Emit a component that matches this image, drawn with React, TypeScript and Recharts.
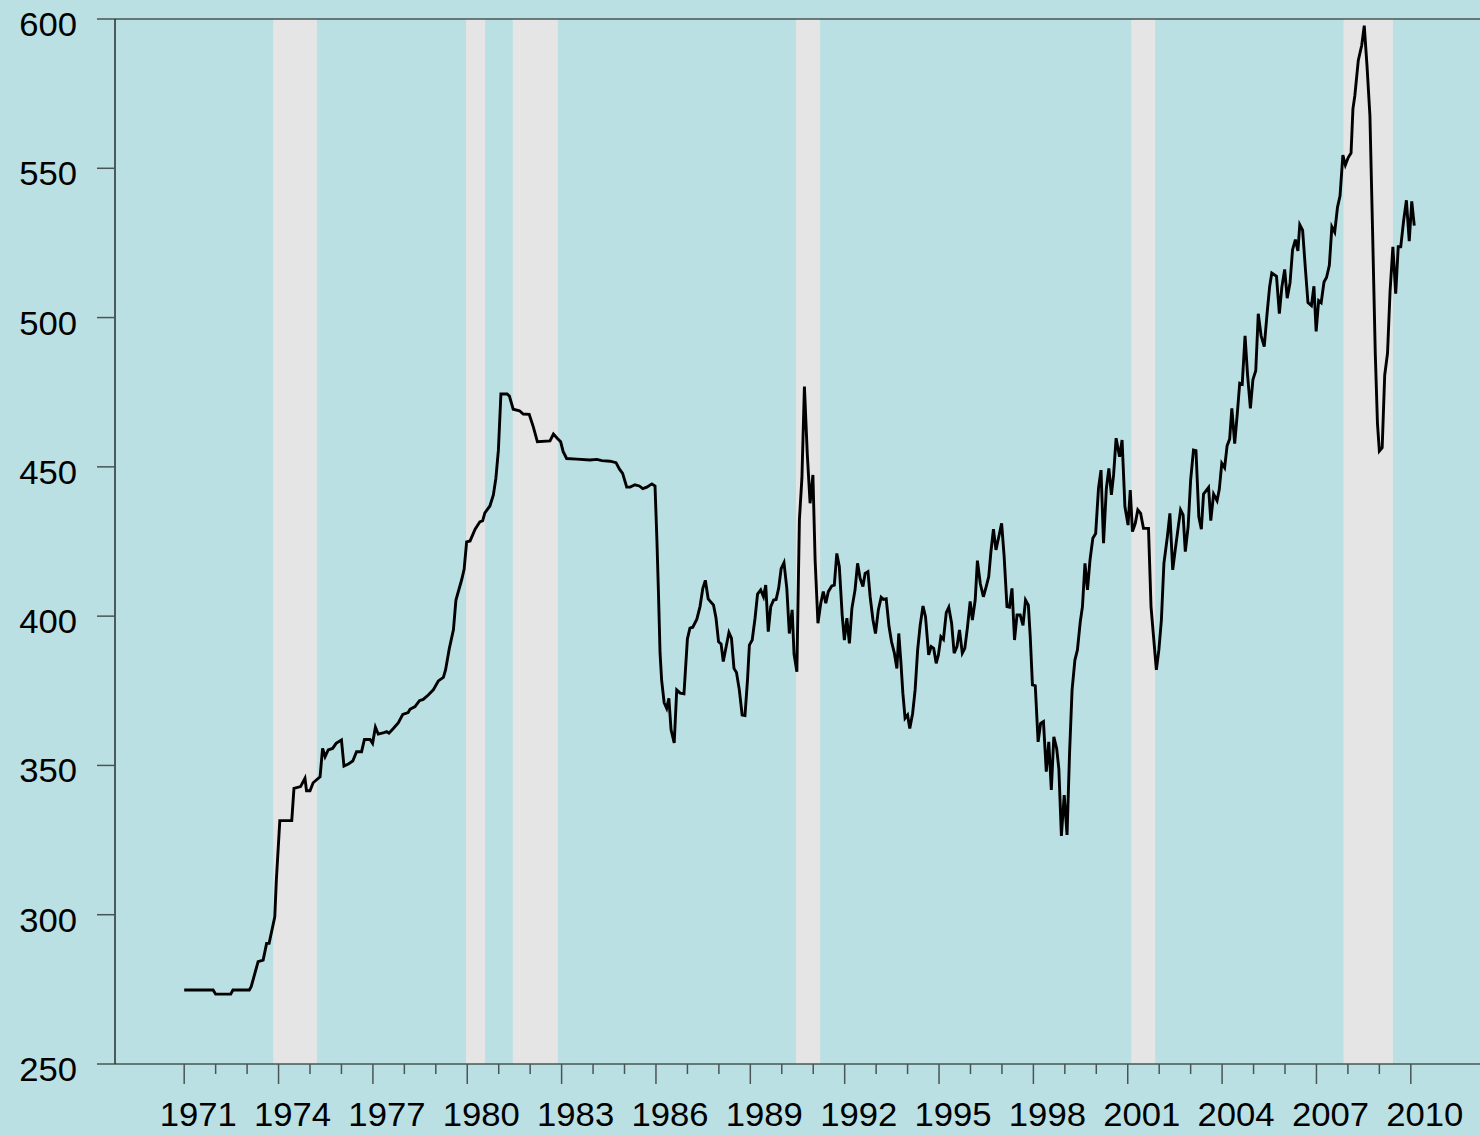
import React from 'react'
import { LineChart, Line, XAxis, YAxis, ReferenceArea, ReferenceLine } from 'recharts'

// decimal year of each reading
const dates = [
  1971.0, 1971.92, 1972.0, 1972.48, 1972.55, 1973.07, 1973.13, 1973.35, 1973.51, 1973.62,
  1973.7, 1973.88, 1973.93, 1974.04, 1974.42, 1974.49, 1974.7, 1974.84, 1974.89, 1975.0,
  1975.1, 1975.32, 1975.4, 1975.48, 1975.58, 1975.72, 1975.83, 1976.0, 1976.08, 1976.22,
  1976.36, 1976.48, 1976.64, 1976.73, 1976.91, 1976.99, 1977.08, 1977.17, 1977.35, 1977.44,
  1977.51, 1977.65, 1977.81, 1977.95, 1978.12, 1978.18, 1978.34, 1978.48, 1978.6, 1978.76,
  1978.92, 1979.08, 1979.24, 1979.31, 1979.43, 1979.56, 1979.64, 1979.82, 1979.9, 1979.98,
  1980.09, 1980.25, 1980.4, 1980.49, 1980.56, 1980.72, 1980.83, 1980.91, 1980.99, 1981.07,
  1981.27, 1981.34, 1981.46, 1981.66, 1981.78, 1981.97, 1982.1, 1982.23, 1982.63, 1982.74,
  1982.86, 1982.97, 1983.05, 1983.16, 1983.48, 1983.9, 1984.12, 1984.28, 1984.54, 1984.73,
  1984.84, 1984.94, 1985.07, 1985.18, 1985.33, 1985.47, 1985.58, 1985.71, 1985.87, 1985.97,
  1986.03, 1986.08, 1986.13, 1986.18, 1986.26, 1986.34, 1986.41, 1986.48, 1986.58, 1986.66,
  1986.77, 1986.89, 1987.0, 1987.08, 1987.17, 1987.3, 1987.4, 1987.49, 1987.57, 1987.66,
  1987.83, 1987.91, 1987.99, 1988.07, 1988.14, 1988.32, 1988.4, 1988.48, 1988.56, 1988.65,
  1988.74, 1988.83, 1988.91, 1988.97, 1989.06, 1989.15, 1989.23, 1989.33, 1989.42, 1989.49,
  1989.57, 1989.65, 1989.74, 1989.82, 1989.9, 1989.98, 1990.07, 1990.16, 1990.24, 1990.33,
  1990.39, 1990.48, 1990.56, 1990.64, 1990.72, 1990.81, 1990.9, 1990.99, 1991.06, 1991.15,
  1991.24, 1991.32, 1991.4, 1991.48, 1991.59, 1991.67, 1991.75, 1991.83, 1991.92, 1991.99,
  1992.07, 1992.15, 1992.23, 1992.33, 1992.41, 1992.49, 1992.58, 1992.65, 1992.74, 1992.81,
  1992.9, 1992.98, 1993.07, 1993.16, 1993.23, 1993.32, 1993.41, 1993.49, 1993.58, 1993.66,
  1993.72, 1993.79, 1993.85, 1993.92, 1994.0, 1994.07, 1994.16, 1994.24, 1994.32, 1994.4,
  1994.49, 1994.57, 1994.67, 1994.75, 1994.83, 1994.91, 1994.98, 1995.06, 1995.14, 1995.23,
  1995.31, 1995.4, 1995.48, 1995.57, 1995.65, 1995.74, 1995.82, 1995.9, 1995.99, 1996.06,
  1996.15, 1996.22, 1996.31, 1996.41, 1996.5, 1996.58, 1996.65, 1996.73, 1996.81, 1996.89,
  1996.99, 1997.07, 1997.16, 1997.24, 1997.32, 1997.4, 1997.48, 1997.58, 1997.67, 1997.75,
  1997.84, 1997.9, 1997.97, 1998.06, 1998.15, 1998.23, 1998.32, 1998.41, 1998.49, 1998.57,
  1998.65, 1998.74, 1998.81, 1998.89, 1998.98, 1999.07, 1999.15, 1999.23, 1999.32, 1999.4,
  1999.49, 1999.56, 1999.64, 1999.72, 1999.8, 1999.89, 1999.98, 2000.07, 2000.15, 2000.23,
  2000.32, 2000.4, 2000.48, 2000.55, 2000.63, 2000.74, 2000.82, 2000.91, 2001.01, 2001.08,
  2001.15, 2001.24, 2001.32, 2001.41, 2001.5, 2001.66, 2001.74, 2001.82, 2001.91, 2001.99,
  2002.07, 2002.15, 2002.26, 2002.34, 2002.43, 2002.51, 2002.6, 2002.68, 2002.76, 2002.83,
  2002.92, 2003.0, 2003.09, 2003.17, 2003.26, 2003.34, 2003.41, 2003.57, 2003.64, 2003.73,
  2003.84, 2003.91, 2003.99, 2004.08, 2004.16, 2004.24, 2004.31, 2004.4, 2004.48, 2004.56,
  2004.64, 2004.73, 2004.81, 2004.9, 2004.98, 2005.07, 2005.15, 2005.24, 2005.34, 2005.43,
  2005.51, 2005.58, 2005.73, 2005.82, 2005.9, 2005.99, 2006.07, 2006.16, 2006.24, 2006.33,
  2006.41, 2006.47, 2006.56, 2006.65, 2006.73, 2006.84, 2006.92, 2006.99, 2007.07, 2007.15,
  2007.24, 2007.32, 2007.41, 2007.49, 2007.58, 2007.67, 2007.75, 2007.84, 2007.92, 2008.01,
  2008.1, 2008.16, 2008.22, 2008.33, 2008.44, 2008.52, 2008.61, 2008.7, 2008.79, 2008.87,
  2008.94, 2009.0, 2009.09, 2009.17, 2009.26, 2009.34, 2009.43, 2009.52, 2009.6, 2009.68,
  2009.77, 2009.86, 2009.95, 2010.03, 2010.11,
]

const values = [
  274.8, 274.8, 273.4, 273.4, 274.8, 274.8, 275.9, 284.3, 284.8, 290.4,
  290.4, 299.3, 311.6, 331.5, 331.5, 342.3, 342.9, 345.7, 341.5, 341.5,
  344.2, 346.2, 355.7, 352.9, 355.2, 355.7, 357.4, 358.5, 349.8, 350.5,
  351.5, 354.6, 354.6, 358.7, 358.7, 357.4, 362.8, 360.5, 361.0, 361.3,
  360.8, 362.4, 364.3, 367.1, 367.7, 368.8, 369.7, 371.7, 372.1, 373.6,
  375.3, 378.3, 379.5, 382.0, 389.2, 395.4, 405.4, 412.1, 415.7, 424.9,
  425.2, 429.1, 431.6, 432.0, 434.6, 436.9, 440.6, 446.2, 455.6, 474.4,
  474.4, 473.7, 469.3, 468.8, 467.7, 467.6, 463.4, 458.4, 458.7, 461.0,
  459.6, 458.4, 455.1, 452.8, 452.6, 452.3, 452.5, 452.1, 451.9, 451.4,
  449.2, 447.8, 443.2, 443.2, 444.0, 443.6, 442.7, 443.2, 444.3, 443.6,
  425.5, 407.6, 387.6, 378.6, 371.0, 369.1, 372.5, 361.9, 357.5, 375.3,
  374.2, 374.0, 392.4, 396.0, 396.3, 399.0, 403.2, 409.3, 412.0, 405.8,
  403.7, 399.3, 391.4, 390.7, 384.8, 394.5, 392.6, 382.5, 381.1, 375.3,
  366.9, 366.7, 378.6, 390.3, 392.0, 399.3, 407.4, 408.8, 406.5, 410.4,
  394.8, 403.2, 405.4, 405.6, 409.3, 415.9, 417.9, 409.3, 394.2, 402.1,
  387.3, 381.4, 432.2, 446.2, 476.9, 454.5, 437.8, 447.3, 418.8, 397.6,
  404.3, 408.2, 404.3, 408.2, 410.1, 410.4, 421.0, 416.6, 400.4, 392.0,
  399.3, 390.9, 402.6, 408.8, 417.7, 412.7, 409.9, 414.3, 414.9, 406.5,
  398.7, 394.2, 402.1, 406.3, 405.6, 405.8, 396.5, 391.4, 387.6, 382.5,
  394.2, 384.2, 374.2, 365.8, 366.9, 362.4, 367.4, 375.3, 388.7, 396.9,
  403.4, 399.8, 387.0, 389.8, 389.2, 384.2, 387.0, 393.1, 392.2, 401.2,
  403.0, 397.6, 387.6, 389.8, 395.4, 387.6, 389.2, 395.9, 404.9, 398.7,
  405.4, 418.6, 411.0, 406.5, 409.9, 413.2, 421.6, 429.1, 422.2, 426.1,
  431.1, 420.0, 403.2, 403.0, 409.3, 392.0, 400.4, 400.4, 396.9, 405.4,
  403.7, 393.1, 377.0, 376.7, 357.9, 364.1, 364.7, 347.9, 357.9, 341.8,
  359.6, 355.7, 348.8, 326.4, 340.1, 326.7, 354.1, 375.3, 385.3, 388.7,
  398.1, 403.2, 417.7, 408.8, 418.8, 426.1, 427.7, 442.8, 448.9, 424.4,
  442.8, 449.5, 440.6, 447.3, 459.6, 453.4, 459.0, 436.7, 430.5, 442.2,
  428.3, 431.1, 435.6, 434.4, 429.4, 429.4, 403.2, 393.1, 382.0, 388.7,
  398.7, 417.7, 426.6, 434.4, 415.5, 422.2, 429.4, 435.6, 433.9, 421.6,
  430.0, 445.6, 455.6, 455.4, 433.3, 429.1, 440.9, 443.1, 432.0, 440.9,
  438.7, 442.4, 451.2, 449.7, 457.1, 459.3, 469.6, 457.8, 467.4, 478.0,
  477.7, 493.9, 480.7, 469.6, 479.2, 482.2, 501.3, 493.9, 490.3, 501.3,
  510.2, 514.9, 513.8, 501.3, 510.2, 516.1, 506.5, 511.6, 522.7, 526.1,
  522.3, 531.1, 529.3, 516.1, 505.0, 504.0, 510.5, 495.4, 505.7, 505.0,
  511.9, 513.4, 517.5, 530.4, 528.6, 537.0, 540.8, 554.4, 551.1, 553.6,
  555.1, 569.9, 574.3, 586.1, 591.2, 597.8, 583.9, 567.6, 526.4, 488.1,
  464.5, 455.3, 456.4, 480.7, 488.1, 508.7, 523.7, 508.0, 523.7, 523.7,
  532.3, 539.3, 525.6, 538.9, 530.8,
]

// recession periods (shaded)
const recessionStart = [1973.83, 1979.96, 1981.45, 1990.45, 2001.11, 2007.86]
const recessionEnd = [1975.22, 1980.57, 1982.88, 1991.22, 2001.87, 2009.43]

const yearTicks = Array.from({ length: 40 }, (_, i) => 1971 + i)
const labelYears = [1971, 1974, 1977, 1980, 1983, 1986, 1989, 1992, 1995, 1998, 2001, 2004, 2007, 2010]
const valueTicks = [250, 300, 350, 400, 450, 500, 550, 600]

const data = dates.map((t, i) => ({ t, v: values[i] }))

const BG = '#bbe0e3'
const BAND = '#e5e5e5'
const AXIS = '#4a5454'
const FONT = '"Liberation Sans", Arial, Helvetica, sans-serif'

const XTick = ({ x, y, payload }: any) => {
  const yr = payload.value
  const major = labelYears.includes(yr)
  return (
    <g>
      <line x1={x} x2={x} y1={y} y2={y + (major ? 20 : 10)} stroke={AXIS} strokeWidth={1.5} />
      {major && (
        <text
          transform={`translate(${x + 14},${y + 62}) scale(1.05,1)`}
          textAnchor="middle"
          fontSize={33}
          fontFamily={FONT}
          fill="#000"
        >
          {yr}
        </text>
      )}
    </g>
  )
}

const YTick = ({ x, y, payload }: any) => (
  <g>
    <line x1={x - 18} x2={x} y1={y} y2={y} stroke={AXIS} strokeWidth={1.5} />
    <text
      transform={`translate(${x - 38},${y + 17}) scale(1.05,1)`}
      textAnchor="end"
      fontSize={33}
      fontFamily={FONT}
      fill="#000"
    >
      {payload.value}
    </text>
  </g>
)

export default function App() {
  return (
    <div style={{ position: 'absolute', left: 0, top: 0, width: 1480, height: 1135, background: BG }}>
      <LineChart width={1480} height={1135} data={data} margin={{ top: 19, right: 0, bottom: 0, left: 0 }}>
        {recessionStart.map((s, i) => (
          <ReferenceArea
            key={i}
            x1={s}
            x2={recessionEnd[i]}
            y1={250}
            y2={600}
            fill={BAND}
            fillOpacity={1}
            stroke="none"
          />
        ))}
        <XAxis
          dataKey="t"
          type="number"
          domain={[1968.8, 2012.2]}
          ticks={yearTicks}
          interval={0}
          allowDataOverflow
          height={71}
          tickSize={0}
          tickMargin={0}
          tickLine={false}
          axisLine={{ stroke: AXIS, strokeWidth: 1.5 }}
          tick={<XTick />}
        />
        <YAxis
          type="number"
          domain={[250, 600]}
          ticks={valueTicks}
          interval={0}
          allowDataOverflow
          width={115}
          tickSize={0}
          tickMargin={0}
          tickLine={false}
          axisLine={{ stroke: '#111', strokeWidth: 1.3 }}
          tick={<YTick />}
        />
        <ReferenceLine y={600} stroke={AXIS} strokeWidth={1.5} />
        <Line
          type="linear"
          dataKey="v"
          stroke="#000"
          strokeWidth={2.9}
          dot={false}
          isAnimationActive={false}
        />
      </LineChart>
    </div>
  )
}
